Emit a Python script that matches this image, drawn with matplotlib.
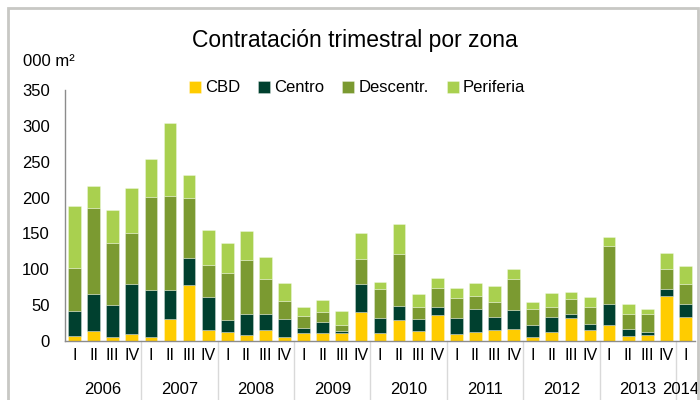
import numpy as np
import matplotlib.pyplot as plt
from matplotlib.patches import Rectangle
from matplotlib.transforms import blended_transform_factory
plt.rcParams['font.family'] = ['Liberation Sans', 'DejaVu Sans']

years = ['2006', '2007', '2008', '2009', '2010', '2011', '2012', '2013', '2014']
quarters = ['I', 'II', 'III', 'IV'] * 8 + ['I']
series = ['CBD', 'Centro', 'Descentr.', 'Periferia']
colors = ['#FFCC00', '#00402F', '#7B9A31', '#A9D04F']

cbd = [7, 14, 6, 10, 6, 30, 78, 16, 12, 9, 16, 6, 11, 11, 11, 40,
       11, 29, 14, 36, 10, 13, 16, 17, 5, 12, 32, 15, 23, 7, 9, 63, 34]
centro = [35, 52, 44, 70, 65, 41, 38, 46, 17, 28, 21, 25, 7, 16, 3, 39,
          21, 20, 16, 12, 22, 32, 18, 26, 17, 21, 6, 9, 28, 10, 4, 10, 18]
descentr = [60, 120, 86, 71, 130, 131, 84, 44, 66, 76, 49, 25, 17, 13, 8, 35,
            40, 72, 18, 26, 28, 18, 21, 44, 22, 14, 21, 23, 82, 20, 25, 27, 27]
periferia = [86, 30, 46, 62, 53, 102, 31, 49, 42, 40, 31, 25, 12, 17, 20, 36,
             10, 42, 17, 14, 14, 18, 22, 13, 10, 20, 10, 15, 12, 14, 7, 23, 25]

fig = plt.figure(figsize=(7, 4), dpi=100)
ax = fig.add_axes([65 / 700, 59 / 400, 630 / 700, 251 / 400])

x = np.arange(len(cbd))
bottom = np.zeros(len(cbd))
for name, vals, col in zip(series, [cbd, centro, descentr, periferia], colors):
    ax.bar(x, vals, width=0.67, bottom=bottom, color=col, label=name,
           edgecolor=(1, 1, 1, 0.35), linewidth=0.6)
    bottom += np.array(vals)

ax.set_xlim(-0.5, len(cbd) - 0.5)
ax.set_ylim(0, 350)
ax.set_yticks(range(0, 351, 50))
ax.tick_params(axis='y', length=0, pad=11, labelsize=12)
ax.set_xticks(x)
ax.set_xticklabels(quarters, fontsize=11.5)
ax.tick_params(axis='x', length=0, pad=5)
for s in ['top', 'right']:
    ax.spines[s].set_visible(False)
for s in ['left', 'bottom']:
    ax.spines[s].set_color('#8C8C8C')
    ax.spines[s].set_linewidth(1)

# year separators and labels
tr = blended_transform_factory(ax.transData, ax.transAxes)
for k in range(1, 9):
    ax.plot([4 * k - 0.5] * 2, [0, -0.3], transform=tr, color='#D9D9D9',
            linewidth=1, clip_on=False)
for k, yr in enumerate(years):
    cx = 4 * k + 1.5 if k < 8 else 31.75
    ax.text(cx, -0.195, yr, transform=tr, ha='center', va='center', fontsize=12)

fig.text(355 / 700, 1 - 40 / 400, 'Contratación trimestral por zona',
         ha='center', va='center', fontsize=16.5)
fig.text(23 / 700, 1 - 62 / 400, '000 m²', ha='left', va='center', fontsize=12)

fig.legend(loc='center', bbox_to_anchor=(357 / 700, 1 - 88 / 400), ncol=4,
           frameon=False, fontsize=12, handlelength=0.7, handleheight=0.7,
           handletextpad=0.25, columnspacing=1.1)

fig.patches.append(Rectangle((8 / 700, -0.02), 690 / 700, 1 - 8 / 400 + 0.02,
                             transform=fig.transFigure, fill=False,
                             edgecolor='#C8C8C4', linewidth=2))

fig.savefig('out.png', dpi=100)
